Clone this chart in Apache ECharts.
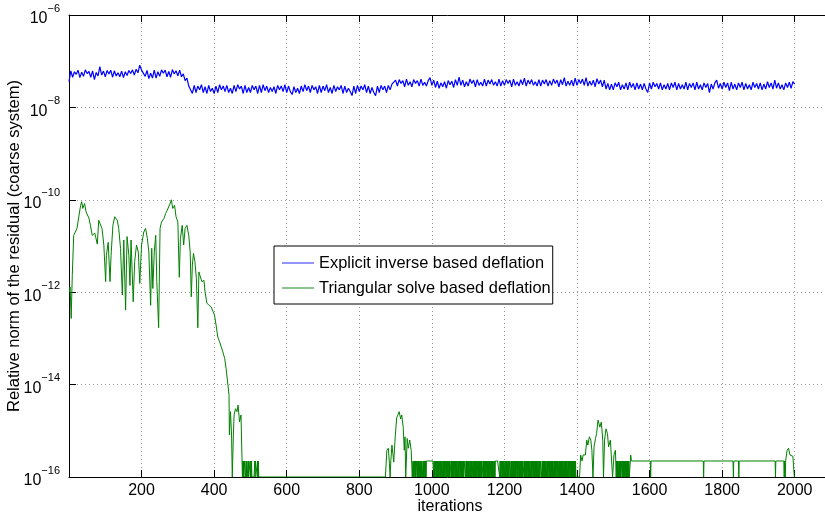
<!DOCTYPE html>
<html><head><meta charset="utf-8">
<script src="https://cdn.jsdelivr.net/npm/echarts@6/dist/echarts.min.js"></script>
<style>html,body{margin:0;padding:0;background:#fff}#c{width:825px;height:516px}</style>
</head><body><div id="c"></div>
<script>
// ---------------- data ----------------
const seriesNames = ['Explicit inverse based deflation', 'Triangular solve based deflation'];
const xTickValues = [200, 400, 600, 800, 1000, 1200, 1400, 1600, 1800, 2000];
const yTickExponents = [-16, -14, -12, -10, -8, -6];
const Z = 1e-16;     // zero residual: drawn on the bottom edge of the log axis
const E = 2.22e-16;  // machine epsilon level

// Explicit inverse: sampled every 5 iterations, values in units of 1e-8
const blueStart = 0, blueStep = 5, blueUnit = 1e-8;
const blueValues = [
 3.6,6.2,4.5,5.9,5.2,6.4,4.4,5.8,4.7,6.5,5.4,6.0,4.5,6.2,4.0,5.7,4.8,7.6,5.0,6.1,
 4.6,6.3,5.3,6.4,4.5,6.2,4.8,5.6,4.6,6.1,4.4,5.9,4.9,6.3,5.4,6.5,5.0,6.7,5.6,8.2,
 6.4,7.0,4.7,6.3,4.2,5.5,4.3,6.4,4.3,5.9,4.7,6.5,5.5,6.4,4.6,6.0,4.5,6.6,5.3,6.2,
 4.8,6.4,4.6,5.3,3.8,4.3,2.9,2.9,2.0,3.0,2.1,2.9,2.4,3.1,2.1,2.8,2.0,3.0,2.2,2.6,
 2.0,2.9,2.1,3.1,2.4,2.9,2.2,3.0,2.1,2.6,2.0,3.0,2.2,3.1,2.5,2.9,2.0,3.0,2.1,2.7,
 2.1,3.0,2.4,2.9,2.0,3.0,2.1,3.1,2.3,2.9,2.1,2.7,2.2,2.8,2.0,3.0,2.4,2.9,2.2,3.1,
 2.1,2.9,2.2,1.9,2.8,2.1,2.6,2.0,2.9,2.2,3.1,2.3,2.9,2.1,3.0,2.4,2.8,2.0,3.0,2.1,
 2.9,2.3,3.1,2.1,2.7,2.0,3.0,2.2,2.8,2.4,3.0,2.0,2.9,2.1,2.6,2.2,1.8,2.9,2.0,3.0,
 2.2,2.9,2.4,3.1,2.1,2.9,2.0,2.7,2.1,1.8,2.9,2.1,3.0,2.4,2.9,2.1,3.0,2.4,3.2,2.9,
 3.9,2.9,4.0,3.3,3.8,2.8,4.1,3.0,3.6,2.8,4.0,3.3,3.8,2.9,4.1,3.0,3.5,2.9,3.8,4.4,
 3.0,3.9,2.7,3.7,2.6,3.4,2.8,3.6,2.6,3.8,3.1,3.7,2.7,4.0,3.0,4.5,3.0,3.9,2.8,3.6,
 2.9,4.1,3.3,3.9,2.8,4.0,3.0,3.5,2.9,4.1,2.9,3.9,3.2,4.0,3.0,3.6,2.9,4.1,2.9,3.8,
 3.0,4.0,3.3,3.9,2.8,4.1,3.0,3.6,2.9,4.0,3.1,4.3,2.9,3.9,3.2,4.0,3.0,3.6,2.9,4.0,
 2.9,3.9,3.2,4.0,2.9,3.8,3.0,4.1,3.3,3.9,2.8,4.0,3.1,4.4,2.9,3.7,3.0,3.9,2.9,4.3,
 3.0,4.0,3.3,4.1,3.0,4.4,2.9,3.7,3.0,3.9,2.8,4.2,3.2,3.9,2.8,3.9,2.5,3.3,2.4,3.2,
 2.4,3.4,2.8,3.5,2.4,3.1,2.5,3.4,2.4,3.5,2.7,3.3,2.4,3.4,2.5,3.2,2.4,3.3,2.5,2.1,
 3.4,2.5,3.5,2.8,3.3,2.5,3.4,2.4,3.1,2.5,3.3,2.4,3.4,2.7,3.5,2.4,3.3,2.5,3.1,2.5,
 3.5,2.4,3.3,2.7,3.4,2.4,3.5,2.5,3.1,2.4,3.4,2.7,3.3,2.1,3.2,2.5,3.4,3.9,2.6,3.3,
 2.5,3.5,2.7,3.4,2.3,3.5,2.5,3.2,2.4,3.4,2.7,3.5,2.4,3.3,2.5,3.1,2.4,3.5,2.7,3.3,
 2.5,3.4,2.4,3.2,2.5,3.6,2.7,3.4,2.5,3.9,2.6,3.4,2.5,3.1,2.4,3.4,2.7,3.5,2.6,3.6,
 3.2
];

// Triangular solve: [iteration, residual] points
const greenDecay = [
 [1,1.0e-12],[3,1.3e-12],[6,2.7e-13],[9,2.3e-12],[13,1.7e-11],[22,2.4e-11],[32,7.6e-11],[35,9.1e-11],
 [38,6.5e-11],[43,8.3e-11],[47,5.5e-11],[55,4.0e-11],[59,2.8e-11],[64,1.7e-11],[71,1.9e-11],[78,1.1e-11],
 [82,3.6e-11],[87,3.3e-11],[91,2.4e-11],[96,1.05e-11],[101,1.7e-12],[103,6.3e-12],[108,1.2e-11],[113,1.7e-12],
 [116,6.3e-12],[121,2.8e-11],[126,4.3e-11],[133,3.6e-11],[137,2.4e-11],[142,8.9e-12],[147,8.7e-13],[151,1.35e-11],
 [156,4.1e-13],[160,1.6e-11],[165,6.3e-12],[168,1.4e-12],[171,1.35e-11],[177,6.2e-13],[181,4.6e-12],[186,1.05e-11],
 [191,7.4e-12],[195,1.55e-12],[200,1.05e-11],[206,2.0e-11],[211,2.4e-11],[216,1.45e-11],[220,7.4e-12],[225,5.2e-13],
 [228,8.9e-12],[231,1.2e-12],[235,7.4e-12],[239,1.7e-11],[242,1.7e-12],[247,1.7e-13],[251,2.4e-11],[255,3.3e-11],
 [262,4.0e-11],[266,5.0e-11],[271,6.0e-11],[275,6.5e-11],[279,8.5e-11],[282,1.0e-10],[286,6.5e-11],[291,7.6e-11],
 [295,4.3e-11],[300,3.3e-11],[304,2.1e-12],[307,1.45e-11],[312,2.8e-11],[316,1.05e-11],[320,2.4e-11],[325,2.8e-11],
 [330,1.7e-11],[334,7.4e-12],[337,7.9e-13],[340,3.9e-12],[343,6.9e-12],[347,4.6e-12],[351,2.0e-12],[355,1.7e-13],
 [358,2.75e-12],[362,3.0e-12],[366,1.7e-12],[372,1.8e-12],[375,1.0e-12],[380,5.8e-13],[386,5.2e-13],[392,4.8e-13],
 [397,3.8e-13],[401,3.2e-13],[406,1.8e-13],[410,1.07e-13],[415,8.5e-14],[420,7.8e-14],[424,5.1e-14],[429,3.7e-14],
 [433,2.2e-14],[438,9.8e-15],[441,5.9e-15],[442,8.1e-16],[445,2.6e-15],[448,8.1e-16],[450,Z],[453,8.1e-16],
 [455,2.2e-15],[459,3.0e-15],[463,2.6e-15],[466,3.6e-15],[470,1.55e-15],[474,2.2e-15],[477,2.1e-16],[478,Z]
];
// eps / zero flicker, one flag per iteration (1 = eps, 0 = zero)
const flicker1Start = 479;
const flicker1 = [1,0,1,0,1,1,1,1,0,1,0,1, 0,0,0, 1,0,1,1,1,1,0,1,0,1, 0,0,0,0,0,0,0,0, 1,0,1,1,1,1,1,0,1,0,1,0];
const greenBump1 = [
 [872,Z],[876,3.8e-16],[880,4.2e-16],[883,2.0e-16],[885,Z],[887,2.3e-16],[890,4.9e-16],[893,3.0e-16],
 [895,2.1e-16],[899,7.4e-16],[903,1.9e-15],[906,2.0e-15],[910,2.6e-15],[914,1.8e-15],[917,2.2e-15],[921,1.2e-15],
 [924,3.8e-16],[926,7.4e-16],[928,Z],[932,6.8e-16],[935,4.2e-16],[939,6.3e-16],[943,3.8e-16],[946,Z]
];
const flicker2Start = 948;
const flicker2 = [
 1,0,1,0,1,1,0,1,0,1, 1,1,0,1,0,1,0,1,1,0, 1,0,1,0,1,1,1,0,1,0, 1,0,1,1,0,1,0,1,
 1,1,1,1,1,1,1,1,1,1,1,1,1,1,1,1,1,1,1,
 0,1,0,1,0,1,1,0,1,0, 1,0,1,0,1,0,1,1,0,1, 0,1,0,1,1,0,1,0,1,0, 1,0,1,1,0,1,0,1,0,1,
 0,1,0,1,0,1,1,1,0,1, 0,1,0,1,0,1,0,1,1,0, 1,0,1,0,1,1,0,1,0,1, 0,1,1,0,1,0,1,0,1,0,
 1,0,1,0,1,1,1,1,0,1, 0,1,0,1,0,1,0,1,1,0, 1,0,1,0,1,0,1,1,0,1, 0,1,0,1,1,0,1,0,1,0,
 1,1,0,1,0,1,0,1,0,1, 0,1,0,1,1,1,0,1,0,1, 0,1,0,1,0,1,1,0,1,0, 1,0,1,0,1,0,1,1,0,1,
 0,1,0,1,1,0,1,0,1,0, 1,
 1,1,1,1,1,1,1,1,1,1,1,
 0,1,0,1,0,1,1,0,1,0, 1,0,1,1,0,1,0,1,0,1, 0,1,0,1,0,1,0,1,1,1, 0,1,0,1,1,0,1,0,1,0,
 1,0,1,0,1,0,1,1,0,1, 0,1,1,0,1,0,1,0,1,0, 1,0,1,0,1,1,1,0,1,0, 1,0,1,0,1,0,1,1,0,1,
 0,1,0,1,1,0,1,0,1,0, 1,1,0,1,0,1,0,1,0,1, 0,1,0,1,0,1,1,0,1,0, 1,0,1,1,1,1,0,1,0,1,
 0,1,0,1,0,1,0,1,1,0, 1,0,1,0,1,1,0,1,0,1, 0,1,0,1,0,1,0,1,1,0, 1,0,1,0,1,0,1,1,0,1,
 0,1,1,0,1,0,1,0,1,0, 1,0,1,0,1,1,0,1,0,1, 0,1,0,1,0,1,1,0,1,0, 1,0,1,1,0,1,0,1,0,1,
 0,1,0,1,0,1,0,1,0,1, 0
];
const greenBump2 = [
 [1398,Z],[1407,Z],[1410,3.0e-16],[1414,E],[1417,3.0e-16],[1423,3.0e-16],[1427,6.3e-16],[1430,4.9e-16],
 [1434,7.4e-16],[1438,6.3e-16],[1441,3.8e-16],[1444,Z],[1447,4.5e-16],[1451,6.8e-16],[1454,8.7e-16],[1458,1.7e-15],
 [1461,1.8e-15],[1463,1.2e-15],[1467,1.55e-15],[1471,6.3e-16],[1473,Z],[1476,6.3e-16],[1480,1.1e-15],[1484,8.7e-16],
 [1487,4.5e-16],[1492,6.3e-16],[1495,6.8e-16],[1498,Z],[1502,3.0e-16],[1506,3.8e-16],[1508,Z]
];
const flicker3Start = 1509;
const flicker3 = [1,0,1,0,1,1,0,1,0,1, 0,1,0,1,1,1,0,1,0,1, 0,1,0,1,0,1,1,0,1,0, 1,0,1,0,1,0,0];
const greenTail = [
 [1547,E],[1548,3.0e-16],[1550,E],[1602,E],[1603,Z],[1604,E],[1748,E],[1749,Z],[1750,E],
 [1830,E],[1831,Z],[1832,E],[1845,E],[1846,Z],[1847,E],[1946,E],[1947,Z],[1948,E],
 [1970,E],[1971,Z],[1972,E],[1974,Z],[1975,E],[1979,3.8e-16],[1983,4.2e-16],[1987,3.0e-16],
 [1991,3.0e-16],[1995,2.8e-16],[1999,Z],[2000,Z]
];

// ---------------- build ----------------
const FONT = '"Liberation Sans", Arial, Helvetica, sans-serif';
const flickerPoints = (start, flags) => flags.map((f, i) => [start + i, f ? E : Z]);
const blueData = blueValues.map((v, i) => [blueStart + i * blueStep, v * blueUnit]);
const greenData = [].concat(
  greenDecay, flickerPoints(flicker1Start, flicker1), greenBump1,
  flickerPoints(flicker2Start, flicker2), greenBump2,
  flickerPoints(flicker3Start, flicker3), greenTail
);

const chart = echarts.init(document.getElementById('c'), null, {renderer: 'canvas'});
const gridLine = {show: true, lineStyle: {color: '#9a9a9a', type: [1, 3], width: 1}};
const xCommon = {
  type: 'value', min: 0, max: 2100, interval: 200,
  axisLine: {show: true, onZero: false, lineStyle: {color: '#000', width: 1}},
  axisTick: {show: true, inside: true, length: 7, lineStyle: {color: '#000'}}
};
chart.setOption({
  animation: false,
  backgroundColor: '#fff',
  grid: {left: 69, top: 15, width: 762, height: 462, outerBoundsMode: 'none'},
  legend: {
    orient: 'vertical', left: 274, top: 246,
    backgroundColor: '#fff', borderColor: '#000', borderWidth: 1, borderRadius: 0,
    padding: [8, 2, 7, 8], itemGap: 7, itemWidth: 32, itemHeight: 1.5, icon: 'rect',
    textStyle: {fontSize: 16.4, fontFamily: FONT, color: '#000', lineHeight: 18},
    data: [
      {name: seriesNames[0], itemStyle: {color: '#7070ff'}},
      {name: seriesNames[1], itemStyle: {color: '#66b066'}}
    ]
  },
  xAxis: [
    Object.assign({}, xCommon, {
      position: 'bottom',
      axisLabel: {
        fontSize: 16, fontFamily: FONT, color: '#000', margin: 6,
        formatter: v => xTickValues.indexOf(v) >= 0 ? String(v) : ''
      },
      splitLine: gridLine,
      name: 'iterations', nameLocation: 'middle', nameGap: 22, nameMoveOverlap: false,
      nameTextStyle: {fontSize: 16, fontFamily: FONT, color: '#000'}
    }),
    Object.assign({}, xCommon, {
      position: 'top', axisLabel: {show: false}, splitLine: {show: false}
    })
  ],
  yAxis: {
    type: 'log', logBase: 10, min: 1e-16, max: 1e-6, interval: 2, splitNumber: 5,
    axisLine: {show: true, lineStyle: {color: '#000', width: 1}},
    axisTick: {show: true, inside: true, length: 7, lineStyle: {color: '#000'}},
    minorTick: {show: false},
    splitLine: gridLine,
    axisLabel: {
      margin: 9,
      formatter: v => {
        const e = Math.round(Math.log10(v));
        if (yTickExponents.indexOf(e) < 0) return '';
        return '{b|10}{e|' + (e < 0 ? '\u2212' : '') + Math.abs(e) + '}';
      },
      rich: {
        b: {fontSize: 16, fontFamily: FONT, color: '#000', verticalAlign: 'bottom', lineHeight: 24},
        e: {fontSize: 11, fontFamily: FONT, color: '#000', verticalAlign: 'top', lineHeight: 24}
      }
    },
    name: 'Relative norm of the residual (coarse system)',
    nameLocation: 'middle', nameGap: 46, nameMoveOverlap: false,
    nameTextStyle: {fontSize: 16.5, fontFamily: FONT, color: '#000'}
  },
  series: [
    {
      name: seriesNames[0], type: 'line', data: blueData, xAxisIndex: 0,
      symbol: 'none', showSymbol: false, clip: true,
      lineStyle: {color: '#0000ff', width: 1.2}, itemStyle: {color: '#0000ff'}
    },
    {
      name: seriesNames[1], type: 'line', data: greenData, xAxisIndex: 0,
      symbol: 'none', showSymbol: false, clip: true,
      lineStyle: {color: '#008000', width: 1}, itemStyle: {color: '#008000'}
    }
  ]
});
</script>
</body></html>
